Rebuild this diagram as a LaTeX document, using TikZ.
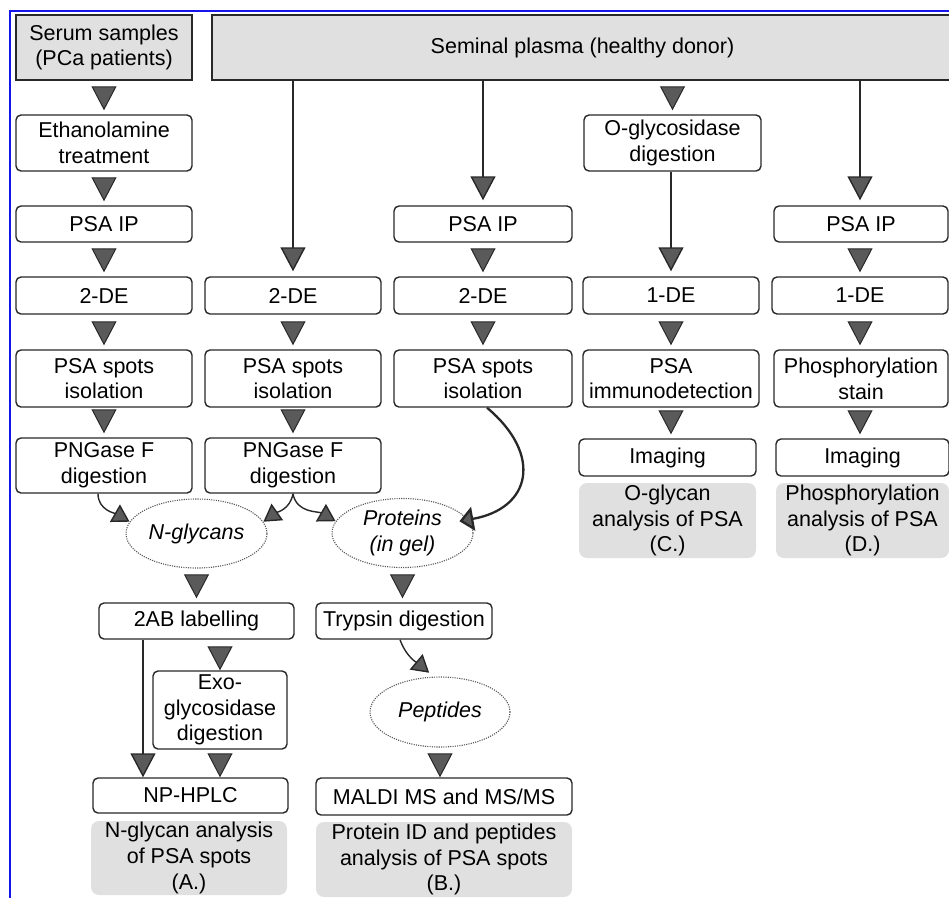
\documentclass[tikz,border=0pt]{standalone}
\usepackage{fontspec}
\setmainfont{Liberation Sans}
\usetikzlibrary{arrows.meta,shapes.geometric}

\begin{document}
\begin{tikzpicture}[x=1pt,y=-1pt,
  every node/.style={font=\fontsize{21.5}{25.7}\selectfont, align=center, inner sep=0pt},
  source/.style={draw=boxline, fill=sumgray, line width=1.4pt, minimum height=65pt},
  stage/.style={draw=boxline, fill=white, rounded corners=5pt, line width=1.4pt, minimum width=176pt},
  pool/.style={ellipse, draw=poolline, line width=1.1pt, dash pattern=on 1.1pt off 1.2pt, minimum width=141pt, minimum height=69pt, font=\fontsize{21.5}{25.7}\selectfont\itshape},
  summary/.style={fill=sumgray, rounded corners=8pt},
  droparrow/.style={draw=boxline, line width=1pt, -{Triangle[length=24pt,width=25pt,fill=tipgray]}, shorten <=10pt, shorten >=4pt},
  feed/.style={draw=boxline, line width=1.4pt, -{Triangle[length=24pt,width=25pt,fill=tipgray]}, shorten >=5pt},
  curvearrow/.style={draw=boxline, line width=1.4pt, -{Triangle[length=17pt,width=20pt,fill=tipgray]}}
]
% Define colors
\definecolor{boxline}{RGB}{40,40,40}
\definecolor{sumgray}{RGB}{224,224,224}
\definecolor{tipgray}{RGB}{90,90,90}
\definecolor{poolline}{RGB}{85,85,85}
\definecolor{frameblue}{RGB}{20,20,235}

\useasboundingbox (0,0) rectangle (949,898);

% Frame
\draw[frameblue, line width=2pt] (10,898) -- (10,11) -- (949,11);

% Sources
\node[source, minimum width=176pt] (serum) at (104,47.5) {Serum samples\\(PCa patients)};
\node[source, minimum width=741pt] (seminal) at (582.5,47.5) {Seminal plasma (healthy donor)};

% Column A: serum samples
\node[stage, minimum height=56pt] (etha) at (104,143) {Ethanolamine\\treatment};
\node[stage, minimum height=36pt] (ip1) at (104,224) {PSA IP};
\node[stage, minimum height=37pt] (de1) at (104,295.5) {2-DE};
\node[stage, minimum height=57pt] (spots1) at (104,378.5) {PSA spots\\isolation};
\node[stage, minimum height=55pt] (png1) at (104,465.5) {PNGase F\\digestion};

% Column B: seminal plasma, 2-DE
\node[stage, minimum height=37pt] (de2) at (293,295.5) {2-DE};
\node[stage, minimum height=57pt] (spots2) at (293,378.5) {PSA spots\\isolation};
\node[stage, minimum height=55pt] (png2) at (293,465.5) {PNGase F\\digestion};

% Column C: seminal plasma, PSA IP
\node[stage, minimum width=178pt, minimum height=36pt] (ip3) at (483,224) {PSA IP};
\node[stage, minimum width=178pt, minimum height=37pt] (de3) at (483,295.5) {2-DE};
\node[stage, minimum width=178pt, minimum height=57pt] (spots3) at (483,378.5) {PSA spots\\isolation};

% Column D: O-glycans
\node[stage, minimum width=177pt, minimum height=56pt] (oglyc) at (672.5,143) {O-glycosidase\\digestion};
\node[stage, minimum height=37pt] (de4) at (671,295.5) {1-DE};
\node[stage, minimum height=57pt] (immuno) at (671,378.5) {PSA\\immunodetection};
\node[stage, minimum width=177pt, minimum height=37pt] (img4) at (667.5,457.5) {Imaging};
\node[summary, minimum width=177pt, minimum height=75pt] (sumC) at (667.5,520.5) {O-glycan\\analysis of PSA\\(C.)};

% Column E: phosphorylation
\node[stage, minimum width=174pt, minimum height=36pt] (ip5) at (861,224) {PSA IP};
\node[stage, minimum height=37pt] (de5) at (860,295.5) {1-DE};
\node[stage, minimum width=174pt, minimum height=57pt] (phos) at (861,378.5) {Phosphorylation\\stain};
\node[stage, minimum width=173pt, minimum height=37pt] (img5) at (862.5,457.5) {Imaging};
\node[summary, minimum width=173pt, minimum height=75pt] (sumD) at (862.5,520.5) {Phosphorylation\\analysis of PSA\\(D.)};

% Glycans and proteins
\node[pool] (ngly) at (196.5,533.5) {N-glycans};
\node[pool] (prot) at (402.5,533) {Proteins\\(in gel)};
\node[stage, minimum width=195pt, minimum height=36pt] (lab) at (196.5,621) {2AB labelling};
\node[stage, minimum height=36pt] (tryp) at (404,621) {Trypsin digestion};
\node[stage, minimum width=134pt, minimum height=78pt] (exo) at (220,710) {Exo-\\glycosidase\\digestion};
\node[pool, minimum width=140pt, minimum height=70pt] (pep) at (440,712) {Peptides};
\node[stage, minimum width=195pt, minimum height=35pt] (hplc) at (190.5,795.5) {NP-HPLC};
\node[stage, minimum width=256pt, minimum height=37pt] (maldi) at (444,796.5) {MALDI MS and MS/MS};
\node[summary, minimum width=196pt, minimum height=74pt] (sumA) at (189,858) {N-glycan analysis\\of PSA spots\\(A.)};
\node[summary, minimum width=256pt, minimum height=75pt] (sumB) at (444,859.5) {Protein ID and peptides\\analysis of PSA spots\\(B.)};

% Column A arrows
\draw[droparrow] (serum.south) -- (etha.north);
\draw[droparrow] (etha.south) -- (ip1.north);
\draw[droparrow] (ip1.south) -- (de1.north);
\draw[droparrow] (de1.south) -- (spots1.north);
\draw[droparrow] (spots1.south) -- (png1.north);

% Seminal plasma branches
\draw[feed] (seminal.south -| de2.north) -- (de2.north);
\draw[feed] (seminal.south -| ip3.north) -- (ip3.north);
\draw[droparrow] (seminal.south -| oglyc.north) -- (oglyc.north);
\draw[feed] (seminal.south -| de5.north) -- (de5.north |- ip5.north);

% Column B and C arrows
\draw[droparrow] (de2.south) -- (spots2.north);
\draw[droparrow] (spots2.south) -- (png2.north);
\draw[droparrow] (ip3.south) -- (de3.north);
\draw[droparrow] (de3.south) -- (spots3.north);

% Column D and E arrows
\draw[feed] (oglyc.south -| de4.north) -- (de4.north);
\draw[droparrow] (de4.south) -- (immuno.north);
\draw[droparrow] (immuno.south) -- (immuno.south |- img4.north);
\draw[droparrow] (ip5.south -| de5.north) -- (de5.north);
\draw[droparrow] (de5.south) -- (de5.south |- phos.north);
\draw[droparrow] (de5.south |- phos.south) -- (de5.south |- img5.north);

% Digestions into pools
\draw[curvearrow] ([xshift=-6pt]png1.south) to[out=-90,in=150] (ngly.170);
\draw[curvearrow] (png2.south) to[out=-100,in=35] (ngly.10);
\draw[curvearrow] (png2.south) to[out=-80,in=150] (prot.170);
\draw[curvearrow, line width=2.3pt, -{Triangle[length=14pt,width=24pt,fill=tipgray]}] ([xshift=4pt]spots3.south) to[out=-40,in=10,looseness=1.6] ([xshift=-10pt]prot.10);

% Glycan branch
\draw[droparrow] (ngly.south) -- (lab.north);
\draw[droparrow, shorten >=0pt] (exo.north |- lab.south) -- (exo.north);
\draw[feed, shorten >=0pt] ([xshift=-53.5pt]lab.south) -- ([xshift=-53.5pt]lab.south |- hplc.north);
\draw[droparrow, shorten >=0pt] (exo.south) -- (exo.south |- hplc.north);

% Protein branch
\draw[droparrow] (prot.south) -- (prot.south |- tryp.north);
\draw[curvearrow, shorten >=6pt] ([xshift=-4pt]tryp.south) to[out=-70,in=140] (pep.100);
\draw[droparrow, shorten >=0pt] (pep.south) -- (pep.south |- maldi.north);

\end{tikzpicture}
\end{document}
